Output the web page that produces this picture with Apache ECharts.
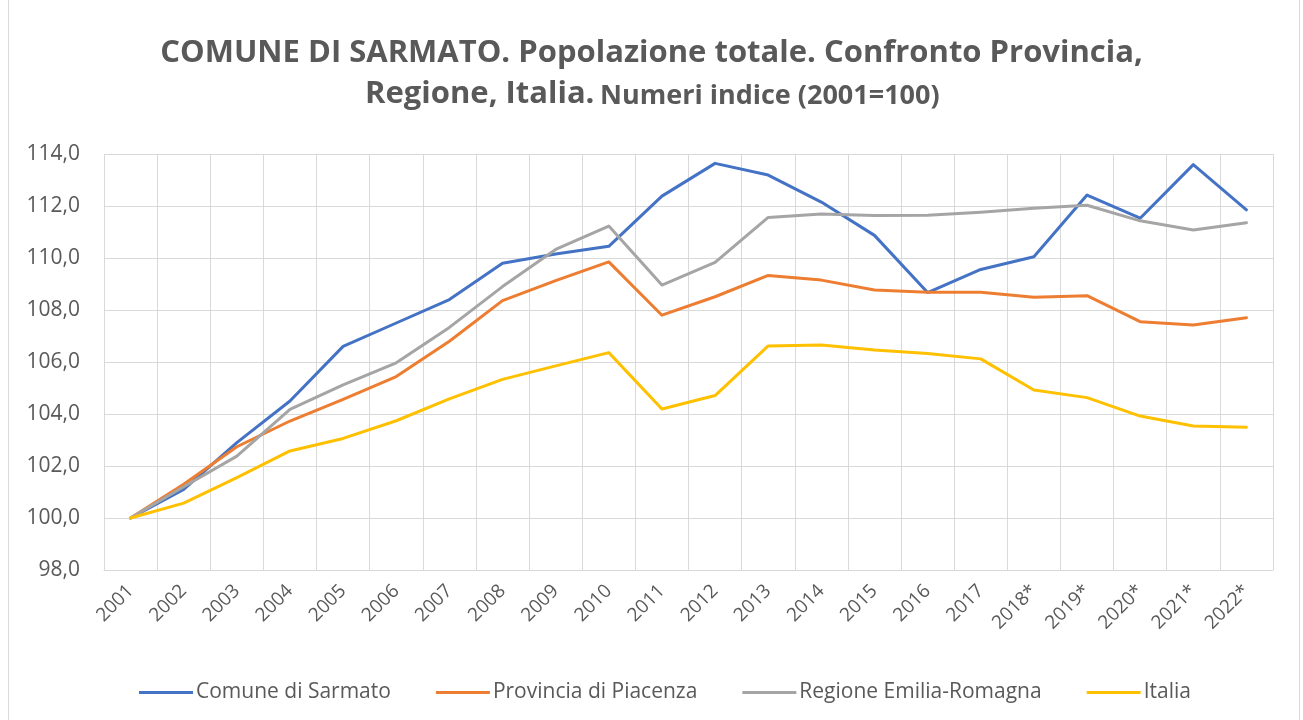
<!DOCTYPE html>
<html><head><meta charset="utf-8">
<script src="https://cdn.jsdelivr.net/npm/echarts@6/dist/echarts.min.js"></script>
<style>html,body{margin:0;padding:0;background:#fff}#c{width:1303px;height:720px}</style>
</head><body><div id="c"></div>
<script>
const years = ['2001','2002','2003','2004','2005','2006','2007','2008','2009','2010','2011','2012','2013','2014','2015','2016','2017','2018*','2019*','2020*','2021*','2022*'];
const sarmato = [100.0,101.1,102.9,104.5,106.6,107.5,108.4,109.8,110.15,110.45,112.38,113.64,113.19,112.15,110.87,108.67,109.56,110.05,112.42,111.53,113.59,111.85];
const piacenza = [100.0,101.3,102.74,103.73,104.56,105.44,106.8,108.36,109.13,109.85,107.8,108.51,109.33,109.15,108.77,108.68,108.68,108.49,108.55,107.55,107.42,107.7];
const emilia = [100.0,101.2,102.38,104.18,105.12,105.97,107.33,108.9,110.33,111.23,108.96,109.83,111.56,111.69,111.63,111.64,111.76,111.91,112.03,111.43,111.08,111.36];
const italia = [100.0,100.57,101.55,102.58,103.06,103.74,104.58,105.33,105.85,106.36,104.19,104.71,106.62,106.65,106.46,106.33,106.12,104.92,104.63,103.92,103.54,103.49];
const seriesNames = ['Comune di Sarmato','Provincia di Piacenza','Regione Emilia-Romagna','Italia'];
const colors = ['#4472C4','#ED7D31','#A5A5A5','#FFC000'];
const yMin = 98, yMax = 114, yStep = 2;
const titleLine1 = 'COMUNE DI SARMATO. Popolazione totale. Confronto Provincia,';
const titleLine2a = 'Regione, Italia.';
const titleLine2b = 'Numeri indice (2001=100)';

const chart = echarts.init(document.getElementById('c'), null, {renderer:'canvas'});
const font = 'Open Sans';
const mk = (name, data, color) => ({
  name, type:'line', data, symbol:'none', smooth:false,
  lineStyle:{width:3, color, cap:'round', join:'round'}, itemStyle:{color}
});
chart.setOption({
  animation:false,
  backgroundColor:'#fff',
  textStyle:{fontFamily:font},
  graphic:[{type:'rect', shape:{x:8.5,y:-5,width:1291,height:740,r:0}, style:{fill:'none', stroke:'#d9d9d9', lineWidth:1}, silent:true},
    {type:'text', left:'center', top:38, style:{text:titleLine1, font:'bold 31px "Open Sans"', fill:'#595959'}},
    {type:'text', left:365, top:79, style:{text:titleLine2a, font:'bold 31px "Open Sans"', fill:'#595959'}},
    {type:'text', left:600, top:83, style:{text:titleLine2b, font:'bold 27px "Open Sans"', fill:'#595959'}}
  ],
  grid:{left:104, right:30, top:154, bottom:150, containLabel:false},
  legend:{top:677, left:134, itemWidth:54, itemHeight:3, itemGap:45,
    icon:'rect', data:seriesNames,
    textStyle:{fontFamily:font, fontSize:21, color:'#595959', padding:[0,0,0,-2]}},
  xAxis:{type:'category', data:years, boundaryGap:true,
    axisLine:{show:true, lineStyle:{color:'#d9d9d9', width:1}},
    axisTick:{show:false},
    splitLine:{show:true, interval:0, lineStyle:{color:'#d9d9d9', width:1}},
    axisLabel:{interval:0, rotate:45, fontSize:19, color:'#595959', fontFamily:font, margin:18}},
  yAxis:{type:'value', min:yMin, max:yMax, interval:yStep,
    axisLine:{show:false}, axisTick:{show:false},
    splitLine:{show:true, lineStyle:{color:'#d9d9d9', width:1}},
    axisLabel:{fontSize:21, color:'#595959', fontFamily:font, margin:24,
      formatter:v=>v.toFixed(1).replace('.',',')}},
  series:[mk(seriesNames[0], sarmato, colors[0]), mk(seriesNames[1], piacenza, colors[1]), mk(seriesNames[2], emilia, colors[2]), mk(seriesNames[3], italia, colors[3])]
});
</script></body></html>
